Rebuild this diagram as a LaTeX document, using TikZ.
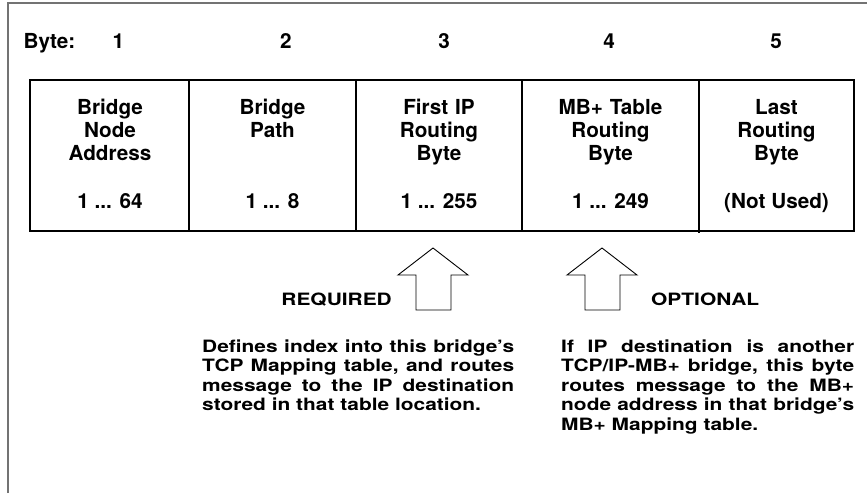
\documentclass[tikz,border=0pt]{standalone}
\usepackage{fontspec}
\setmainfont{TeX Gyre Heros}
\newfontfamily\widefont[FakeStretch=1.23]{TeX Gyre Heros}
\begin{document}
\begin{tikzpicture}[x=1pt,y=-1pt,
  hdr/.style={font=\fontsize{20.7}{23}\selectfont\bfseries, inner sep=0pt, anchor=base},
  cell/.style={font=\fontsize{20.7}{23}\selectfont\bfseries, inner sep=0pt, anchor=base, align=center, text width=150pt},
  lbl/.style={font=\widefont\fontsize{17}{19.4}\selectfont\bfseries, inner sep=0pt, anchor=base},
  para/.style={font=\widefont\fontsize{17}{19.4}\selectfont\bfseries, inner sep=0pt, anchor=base west, align=justify},
  frame/.style={draw=black!55, line width=1.6pt},
  tbl/.style={draw=black, line width=1.1pt},
  bigarrow/.style={draw=black, line width=0.9pt, line join=miter}
]
\useasboundingbox (0,0) rectangle (867,493);
% outer frame
\draw[frame] (8,493) -- (8,3) -- (867,3);
% table
\coordinate (tl) at (30,80);
\coordinate (br) at (854,231);
\draw[tbl] (tl) rectangle (br);
\draw[tbl] (189,80) -- (189,231);
\draw[tbl] (356,80) -- (356,231);
\draw[tbl] (522,80) -- (522,231);
\draw[tbl] (699,80) -- (699,233);
% header
\node[hdr, anchor=base west] (h0) at (23.5,48) {Byte:};
\node[hdr] (h1) at (118.5,48) {1};
\node[hdr] (h2) at (286,48) {2};
\node[hdr] (h3) at (444,48) {3};
\node[hdr] (h4) at (609,48) {4};
\node[hdr] (h5) at (776,48) {5};
% cell titles
\node[cell] (c1) at (110,114) {Bridge\\Node\\Address};
\node[cell] (c2) at (272.5,114) {Bridge\\Path};
\node[cell] (c3) at (439,114) {First IP\\Routing\\Byte};
\node[cell] (c4) at (610.5,114) {MB+ Table\\Routing\\Byte};
\node[cell] (c5) at (776.5,114) {Last\\Routing\\Byte};
% ranges
\node[hdr] (r1) at (110,208) {1 ... 64};
\node[hdr] (r2) at (272.5,208) {1 ... 8};
\node[hdr] (r3) at (439,208) {1 ... 255};
\node[hdr] (r4) at (610.5,208) {1 ... 249};
\node[hdr] (r5) at (776.5,208) {(Not Used)};
% arrows
\draw[bigarrow] (433,248) -- (468,275) -- (451,275) -- (451,310) -- (416,310) -- (416,275) -- (398,275) -- cycle;
\draw[bigarrow] (602,248) -- (637,275) -- (620,275) -- (620,310) -- (585,310) -- (585,275) -- (567,275) -- cycle;
% labels
\node[lbl, anchor=base east] (req) at (392,305.5) {REQUIRED};
\node[lbl, anchor=base west] (opt) at (651,305.5) {OPTIONAL};
% paragraphs
\node[para, text width=312pt] (p1) at (202,352.5) {Defines index into this bridge’s\linebreak TCP Mapping table, and routes\linebreak message to the IP destination\linebreak stored in that table location.};
\node[para, text width=293pt] (p2) at (561,352.5) {If IP destination is another\linebreak TCP/IP-MB+ bridge, this byte\linebreak routes message to the MB+\linebreak node address in that bridge’s\linebreak MB+ Mapping table.};
\end{tikzpicture}
\end{document}
